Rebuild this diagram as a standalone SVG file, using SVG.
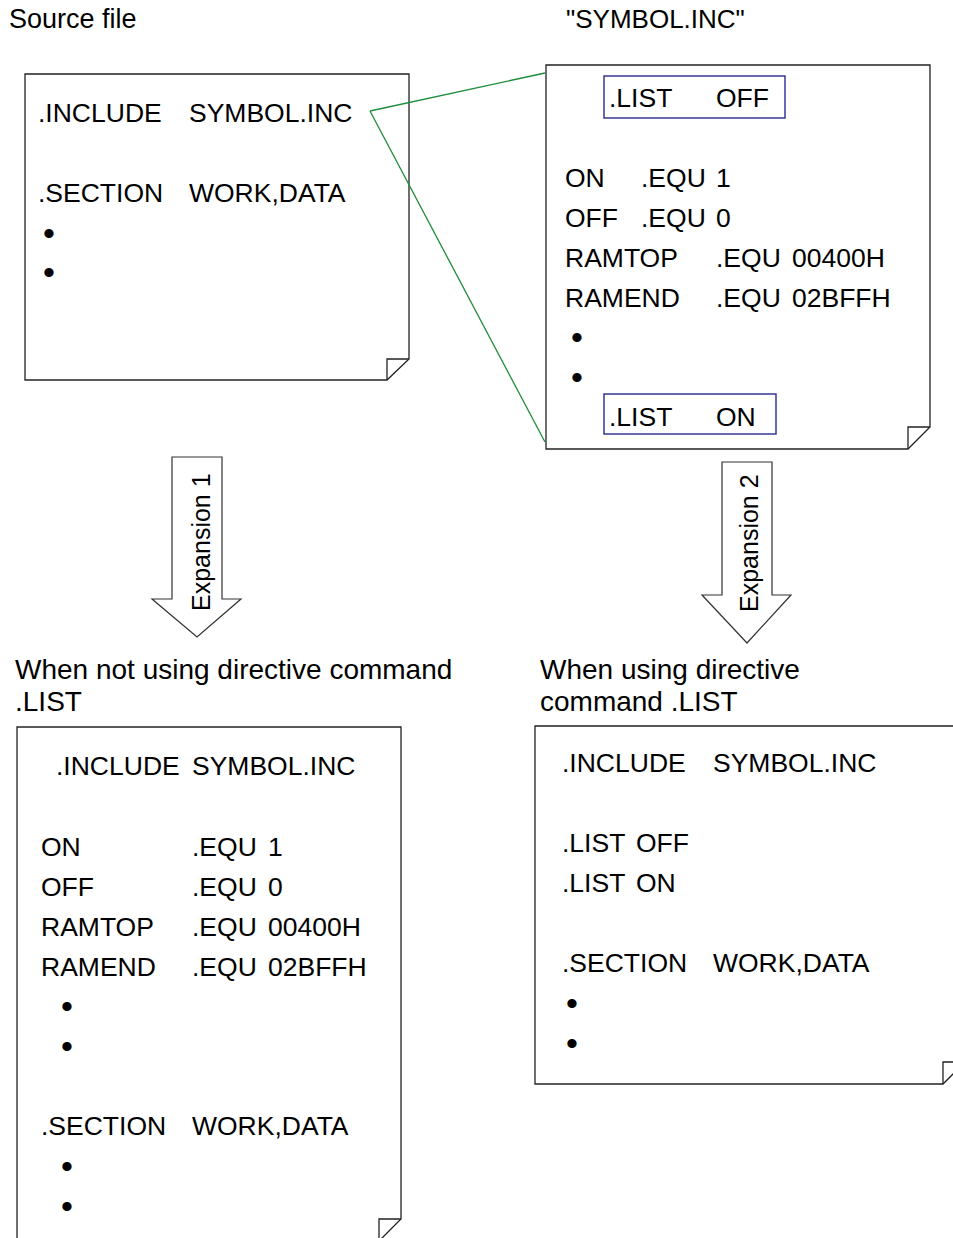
<svg xmlns="http://www.w3.org/2000/svg" width="953" height="1238" viewBox="0 0 953 1238">
<style>
text{font-family:"Liberation Sans",Arial,sans-serif;font-size:26.5px;fill:#000}
.lbl{font-size:26px}
.src{font-size:27px}
.hd{font-size:28px}
.rot{font-size:25px}
.doc{fill:#fff;stroke:#222;stroke-width:1.3}
.fold{fill:none;stroke:#222;stroke-width:1.3}
.hl{fill:none;stroke:#2a2a90;stroke-width:1.4}
.conn{fill:none;stroke:#1e8c3a;stroke-width:1.3}
.arrow{fill:#fff;stroke:#333;stroke-width:1.2}
.b{text-anchor:middle;font-size:34px}
</style>
<rect width="953" height="1238" fill="#fff"/>

<text class="src" x="9" y="28">Source file</text>
<text class="lbl" x="566" y="28">"SYMBOL.INC"</text>

<g id="source-file">
<path class="doc" d="M25,74 H409 V359 L387,380 H25 Z"/>
<path class="fold" d="M387,380 V359 H409"/>
<text x="38" y="122">.INCLUDE</text><text x="189" y="122">SYMBOL.INC</text>
<text x="38" y="202">.SECTION</text><text x="189" y="202">WORK,DATA</text>
<text class="b" x="49" y="245">•</text>
<text class="b" x="49" y="284">•</text>
</g>

<g id="symbol-inc">
<path class="doc" d="M546,65 H930 V427 L908,449 H546 Z"/>
<path class="fold" d="M908,449 V427 H930"/>
<rect class="hl" x="604" y="76" width="181" height="42"/>
<text x="609" y="107">.LIST</text><text x="716" y="107">OFF</text>
<text x="565" y="187">ON</text><text x="641" y="187">.EQU</text><text x="716" y="187">1</text>
<text x="565" y="227">OFF</text><text x="641" y="227">.EQU</text><text x="716" y="227">0</text>
<text x="565" y="267">RAMTOP</text><text x="716" y="267">.EQU</text><text x="792" y="267">00400H</text>
<text x="565" y="307">RAMEND</text><text x="716" y="307">.EQU</text><text x="792" y="307">02BFFH</text>
<text class="b" x="577" y="349">•</text>
<text class="b" x="577" y="389">•</text>
<rect class="hl" x="604" y="394" width="172" height="40"/>
<text x="609" y="426">.LIST</text><text x="716" y="426">ON</text>
</g>

<g id="connectors">
<line class="conn" x1="370" y1="111" x2="545" y2="73"/>
<line class="conn" x1="370" y1="111" x2="545" y2="442"/>
</g>

<g id="expansion-1">
<path class="arrow" d="M172,457 H222 V599 H241 L197,637 L152,599 H172 Z"/>
<text class="rot" transform="translate(210,611) rotate(-90)">Expansion 1</text>
</g>

<g id="expansion-2">
<path class="arrow" d="M722,462 H772 V595 H791 L747,643 L702,595 H722 Z"/>
<text class="rot" transform="translate(758,612) rotate(-90)">Expansion 2</text>
</g>

<text class="hd" x="15" y="679">When not using directive command</text>
<text class="hd" x="15" y="711">.LIST</text>
<text class="hd" x="540" y="679">When using directive</text>
<text class="hd" x="540" y="711">command .LIST</text>

<g id="result-without-list">
<path class="doc" d="M17,727 H401 V1219 L379,1241 H17 Z"/>
<path class="fold" d="M379,1241 V1219 H401"/>
<text x="56" y="775">.INCLUDE</text><text x="192" y="775">SYMBOL.INC</text>
<text x="41" y="856">ON</text><text x="192" y="856">.EQU</text><text x="268" y="856">1</text>
<text x="41" y="896">OFF</text><text x="192" y="896">.EQU</text><text x="268" y="896">0</text>
<text x="41" y="936">RAMTOP</text><text x="192" y="936">.EQU</text><text x="268" y="936">00400H</text>
<text x="41" y="976">RAMEND</text><text x="192" y="976">.EQU</text><text x="268" y="976">02BFFH</text>
<text class="b" x="67" y="1018">•</text>
<text class="b" x="67" y="1058">•</text>
<text x="41" y="1135">.SECTION</text><text x="192" y="1135">WORK,DATA</text>
<text class="b" x="67" y="1178">•</text>
<text class="b" x="67" y="1218">•</text>
</g>

<g id="result-with-list">
<path class="doc" d="M535,726 H965 V1062 L943,1084 H535 Z"/>
<path class="fold" d="M943,1084 V1062 H965"/>
<text x="562" y="772">.INCLUDE</text><text x="713" y="772">SYMBOL.INC</text>
<text x="562" y="852">.LIST</text><text x="636" y="852">OFF</text>
<text x="562" y="892">.LIST</text><text x="636" y="892">ON</text>
<text x="562" y="972">.SECTION</text><text x="713" y="972">WORK,DATA</text>
<text class="b" x="572" y="1015">•</text>
<text class="b" x="572" y="1055">•</text>
</g>
</svg>
